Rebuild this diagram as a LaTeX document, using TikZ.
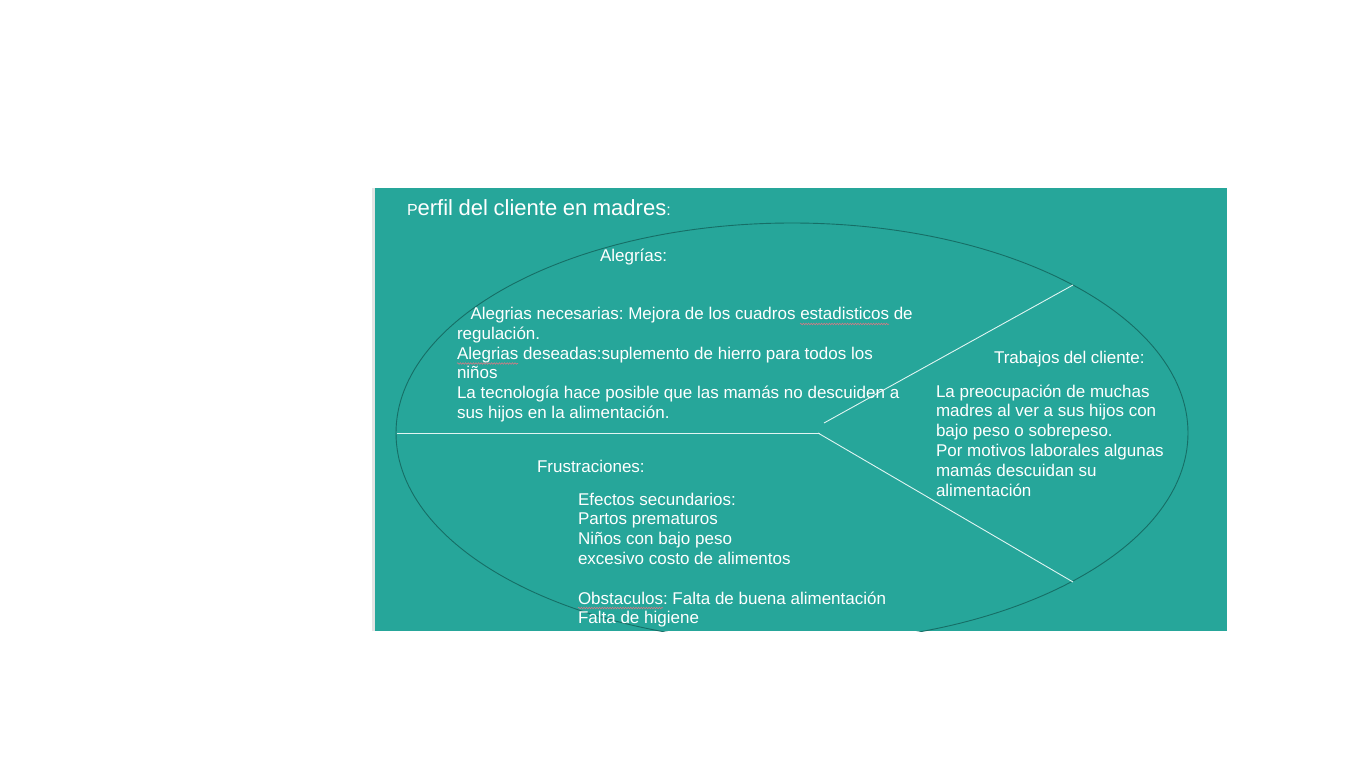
\documentclass[tikz,border=0pt]{standalone}
\usepackage{fontspec}
\setmainfont{Liberation Sans}
\usetikzlibrary{decorations.pathmorphing}
\frenchspacing
\definecolor{tealbg}{RGB}{38,166,154}
\definecolor{tealdark}{RGB}{22,110,102}
\definecolor{lineW}{RGB}{225,245,242}
\definecolor{edgegray}{RGB}{228,228,228}
\definecolor{wavy}{RGB}{205,125,135}
\newcommand\bodyfont{\fontsize{17}{19.8}\selectfont\frenchspacing}
\newcommand\bodyspace{\spaceskip 4.73pt\relax}
\newcommand\titlespace{\spaceskip 5.6pt\relax}
\newcommand\headspace{\spaceskip 4.3pt\relax}
\tikzset{
  txt/.style={anchor=base west, inner sep=0pt, outer sep=0pt, text=white, font=\bodyfont},
  para/.style={txt, align=left, text width=#1},
  sep/.style={draw=lineW, line width=0.9pt},
  spell/.style={draw=wavy, line width=0.6pt, decorate, decoration={snake, amplitude=0.8pt, segment length=2.6pt}}
}
\begin{document}
\begin{tikzpicture}[x=1pt,y=-1pt]
\useasboundingbox (0,0) rectangle (1366,768);
\fill[white] (0,0) rectangle (1366,768);
\fill[edgegray] (372,188) rectangle (375,631);
\fill[tealbg] (375,188) rectangle (1227,631);
\begin{scope}
  \clip (375,188) rectangle (1227,631);
  \draw[tealdark, line width=0.9pt] (792,433) ellipse [x radius=396, y radius=210];
\end{scope}
% separators
\coordinate (hl) at (397,433);
\coordinate (hr) at (820,433);
\coordinate (u1) at (824,423);
\coordinate (u2) at (1073,285);
\coordinate (l1) at (818,433);
\coordinate (l2) at (1073,582);
\draw[sep] (hl) -- (hr);
\draw[sep] (u1) -- (u2);
\draw[sep] (l1) -- (l2);
% title
\node[txt] (title) at (407,215) {{\fontsize{16}{19}\selectfont P}{\fontsize{22}{26}\selectfont\titlespace erfil del cliente en madres}{\fontsize{16}{19}\selectfont :}};
% alegrias
\node[txt] (aleghead) at (600,261) {Alegrías:};
\node[para=480pt] (alegbody) at (457,319.5) {\bodyspace\hspace*{13.5pt}Alegrias necesarias: Mejora de los cuadros estadisticos de\\
regulación.\\
Alegrias deseadas:suplemento de hierro para todos los\\
niños\\
La tecnología hace posible que las mamás no descuiden a\\
sus hijos en la alimentación.};
% trabajos
\node[txt] (trabhead) at (994,363) {\headspace Trabajos del cliente:};
\node[para=260pt] (trabbody) at (936,397) {\bodyspace La preocupación de muchas\\
madres al ver a sus hijos con\\
bajo peso o sobrepeso.\\
Por motivos laborales algunas\\
mamás descuidan su\\
alimentación};
% frustraciones
\node[txt] (frushead) at (537,472) {Frustraciones:};
\node[para=360pt] (frusbody) at (578,505) {\bodyspace Efectos secundarios:\\
Partos prematuros\\
Niños con bajo peso\\
excesivo costo de alimentos\\[19.8pt]
Obstaculos: Falta de buena alimentación\\
Falta de higiene};
% spell-check underlines
\coordinate (w1a) at (800,324); \coordinate (w1b) at (889,324);
\coordinate (w2a) at (457,363.5); \coordinate (w2b) at (518,363.5);
\coordinate (w3a) at (578,608); \coordinate (w3b) at (663,608);
\draw[spell] (w1a) -- (w1b);
\draw[spell] (w2a) -- (w2b);
\draw[spell] (w3a) -- (w3b);
\end{tikzpicture}
\end{document}
